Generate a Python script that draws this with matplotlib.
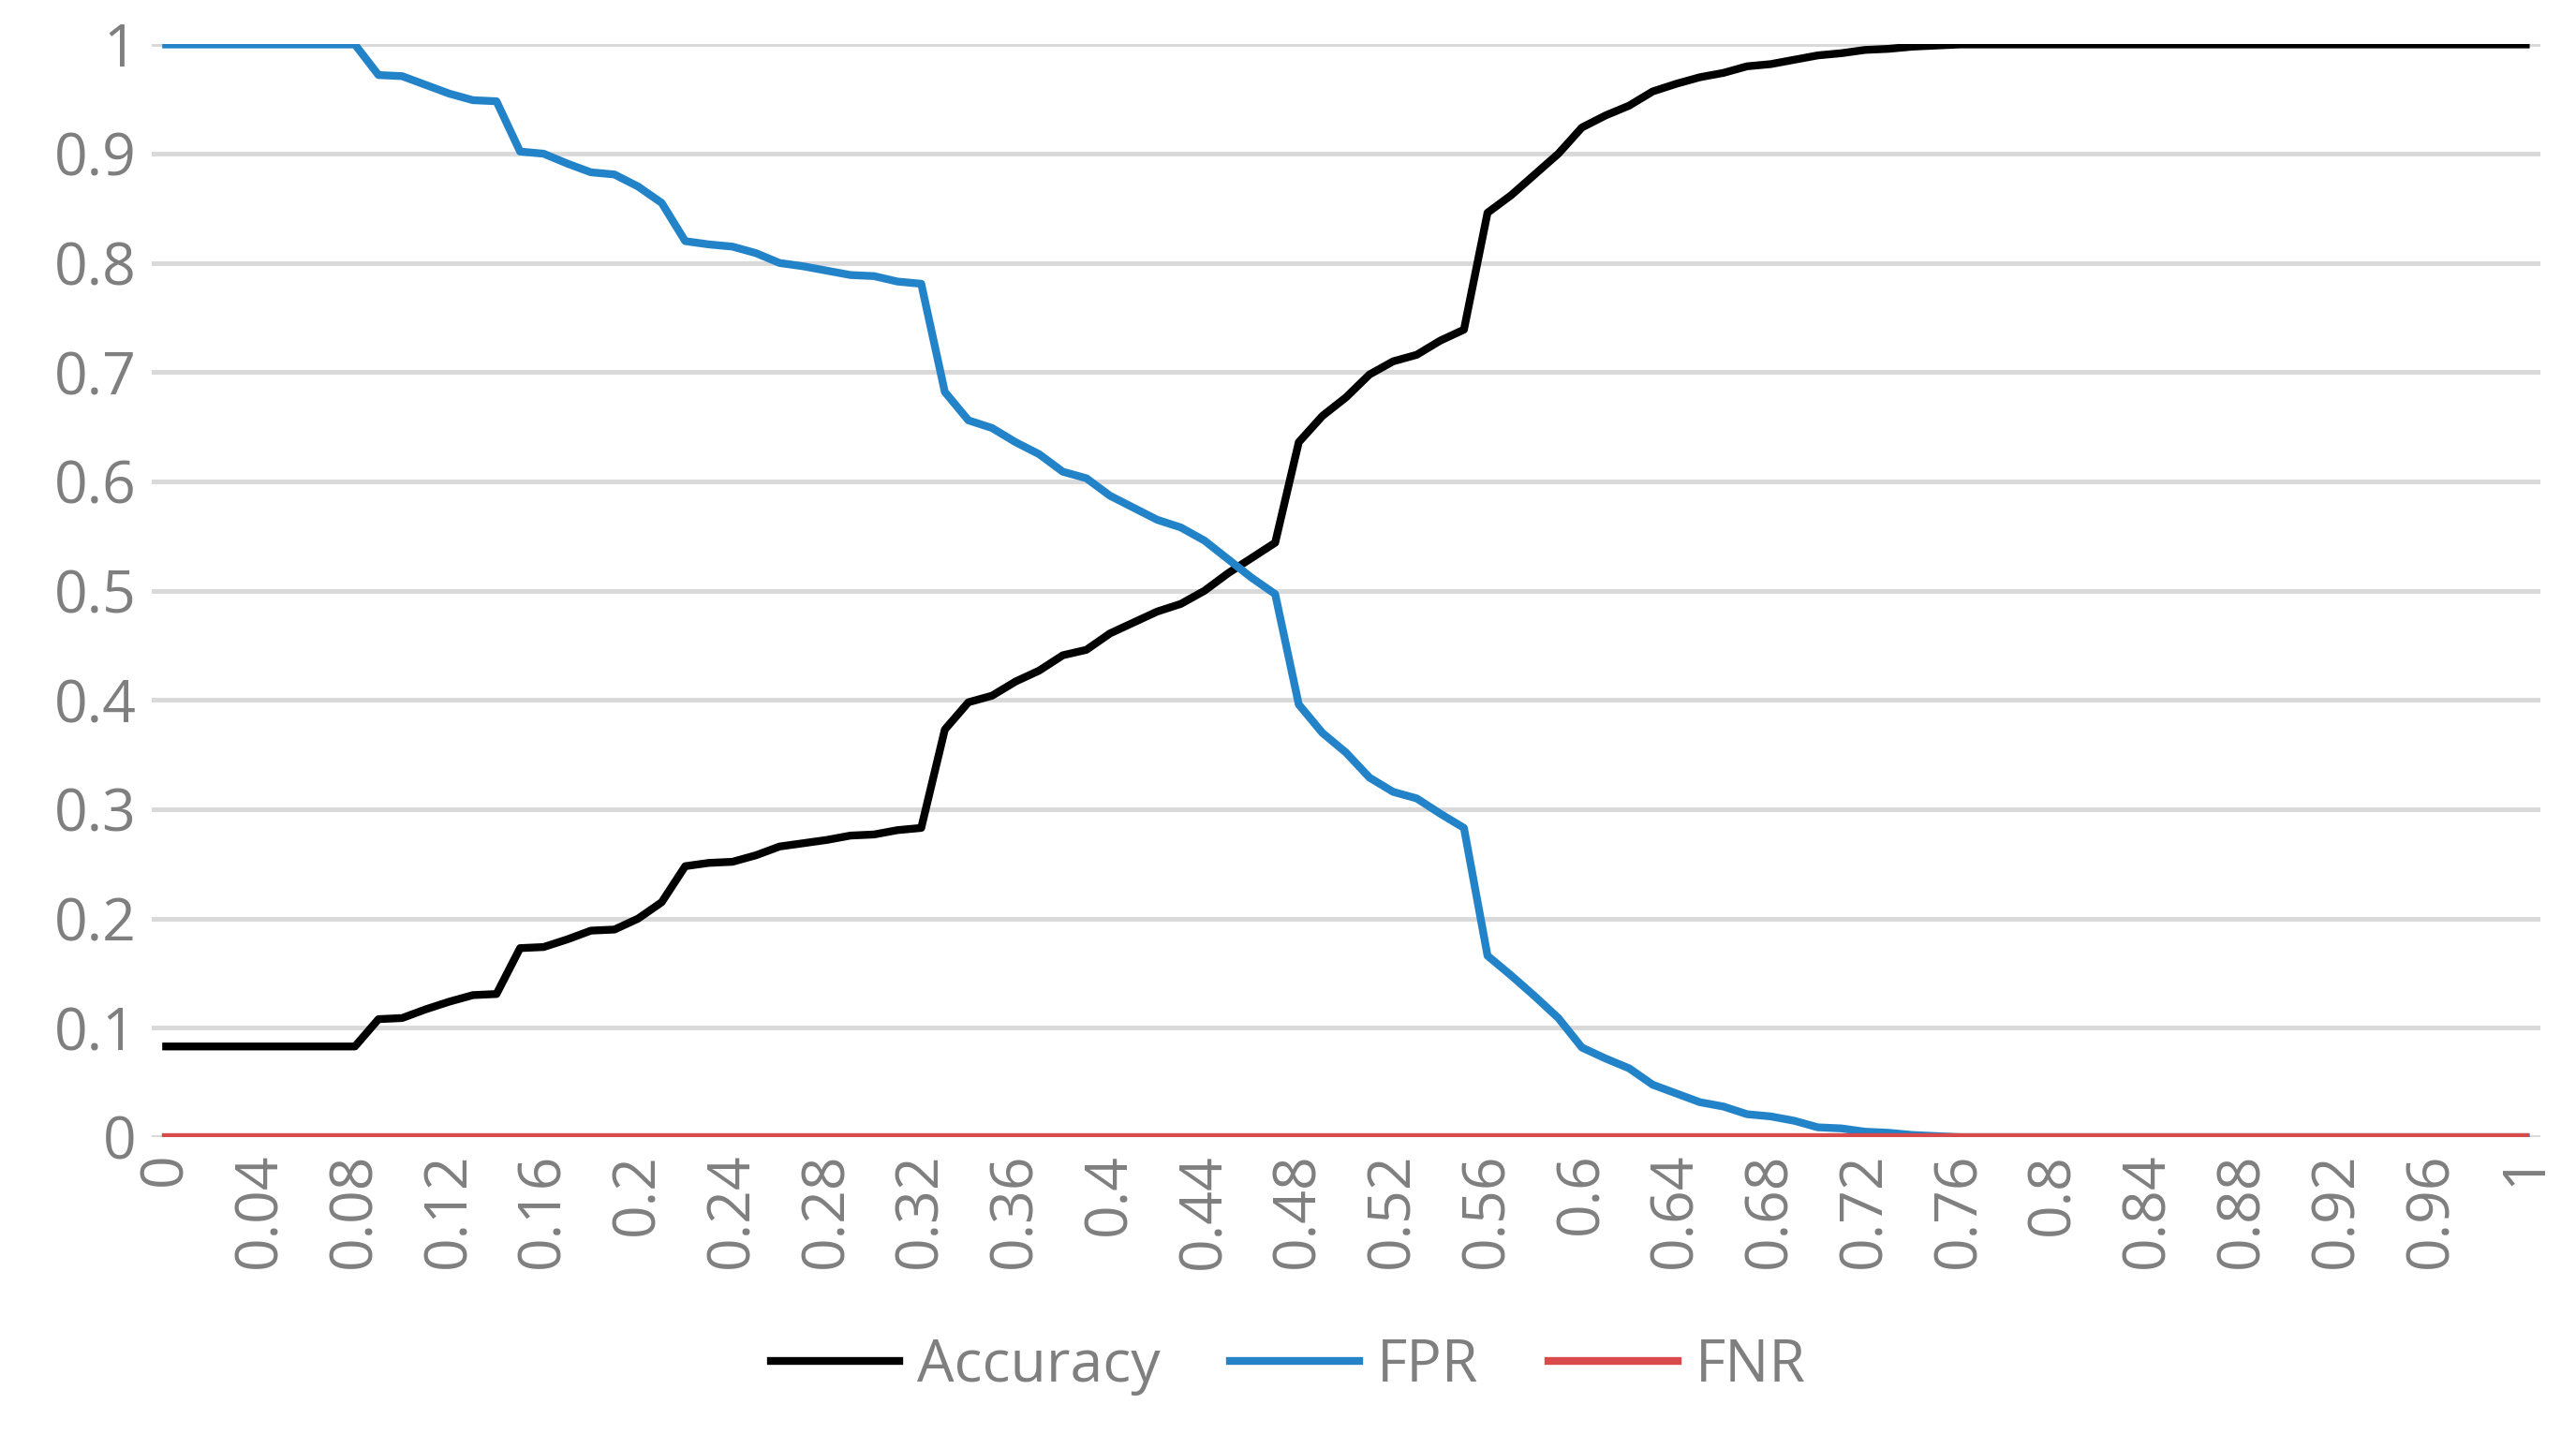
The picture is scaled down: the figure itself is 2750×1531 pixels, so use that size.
import numpy as np
import matplotlib
matplotlib.use("Agg")
import matplotlib.pyplot as plt

# threshold categories 0.00 .. 1.00
thresholds = [round(i * 0.01, 2) for i in range(101)]

accuracy = [0.083] * 9 + [
    0.108, 0.109, 0.117, 0.124, 0.130, 0.131, 0.173, 0.174, 0.181, 0.189, 0.190,
    0.200, 0.215, 0.248, 0.251, 0.252, 0.258, 0.266, 0.269, 0.272, 0.276, 0.277,
    0.281, 0.283, 0.373, 0.398, 0.404, 0.417, 0.427, 0.441, 0.446, 0.461, 0.471,
    0.481, 0.488, 0.500, 0.516, 0.530, 0.544, 0.636, 0.660, 0.677, 0.698, 0.710,
    0.716, 0.729, 0.739, 0.846, 0.862, 0.881, 0.900, 0.924, 0.935, 0.944, 0.957,
    0.964, 0.970, 0.974, 0.980, 0.982, 0.986, 0.990, 0.992, 0.995, 0.996, 0.998,
    0.999] + [1.0] * 25

fpr = [1.0] * 9 + [
    0.972, 0.971, 0.963, 0.955, 0.949, 0.948, 0.902, 0.900, 0.891, 0.883, 0.881,
    0.870, 0.855, 0.820, 0.817, 0.815, 0.809, 0.800, 0.797, 0.793, 0.789, 0.788,
    0.783, 0.781, 0.682, 0.656, 0.649, 0.636, 0.625, 0.609, 0.603, 0.587, 0.576,
    0.565, 0.558, 0.546, 0.529, 0.512, 0.497, 0.396, 0.370, 0.352, 0.329, 0.316,
    0.310, 0.296, 0.283, 0.166, 0.148, 0.129, 0.109, 0.082, 0.072, 0.063, 0.048,
    0.040, 0.032, 0.028, 0.021, 0.019, 0.015, 0.009, 0.008, 0.005, 0.004, 0.002,
    0.001] + [0.0] * 25

fnr = [0.0] * 101

tick_labels = [("%g" % t) for t in thresholds[::4]]

plt.rcParams["font.family"] = ["Open Sans", "DejaVu Sans"]
grey = "#7f7f7f"

fig = plt.figure(figsize=(27.5, 15.31), dpi=100)
ax = fig.add_axes([0.059, 0.207, 0.927, 0.762])
x = np.arange(len(thresholds))

ax.plot(x, accuracy, color="black", lw=6, label="Accuracy", solid_joinstyle="round")
ax.plot(x, fpr, color="#2383c8", lw=6, label="FPR", solid_joinstyle="round")
ax.plot(x, fnr, color="#d94a4a", lw=6, label="FNR")

ax.set_xlim(-0.6, 100.6)
ax.set_ylim(0, 1)
ax.set_yticks(np.arange(0, 1.01, 0.1))
ax.set_yticklabels(["%g" % v for v in np.round(np.arange(0, 1.01, 0.1), 1)])
ax.set_xticks(x[::4])
ax.set_xticklabels(tick_labels, rotation=90)
ax.tick_params(axis="both", length=0, labelsize=45, labelcolor=grey, pad=12)
ax.grid(axis="y", color="#d9d9d9", lw=3.5)
ax.set_axisbelow(True)
for s in ax.spines.values():
    s.set_visible(False)

fig.legend(loc="lower center", bbox_to_anchor=(0.5, -0.01), ncol=3, frameon=False,
           fontsize=45, labelcolor=grey, handlelength=2.2, handletextpad=0.3,
           columnspacing=1.2)

fig.savefig("out.png", dpi=100)
